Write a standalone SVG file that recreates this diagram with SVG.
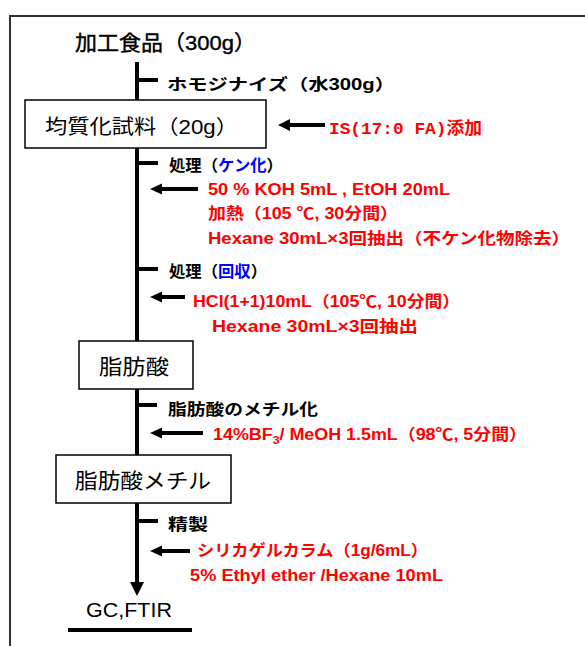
<svg xmlns="http://www.w3.org/2000/svg" width="585" height="646" viewBox="0 0 585 646">
<style>
.k{font-family:"Liberation Sans","Noto Sans CJK JP",sans-serif;fill:#000}
.b{font-weight:bold}
.r{fill:#ff0000;font-weight:bold}
.bl{fill:#0000ff}
.box{fill:#fff;stroke:#000;stroke-width:1.5}
.ln{stroke:#000;stroke-width:4;fill:none}
</style>
<path d="M10,646 L10,16 L585,16" fill="none" stroke="#333" stroke-width="2"/>
<g id="connectors">
<line class="ln" x1="137" y1="62" x2="137" y2="100"/>
<line class="ln" x1="137" y1="148" x2="137" y2="341"/>
<line class="ln" x1="137" y1="389" x2="137" y2="455"/>
<path d="M137,503 L137,582" class="ln"/>
<path d="M130,582 L144,582 L137,596 Z" fill="#000"/>
<line class="ln" x1="137" y1="80" x2="158" y2="80"/>
<line class="ln" x1="137" y1="163" x2="158" y2="163"/>
<line class="ln" x1="137" y1="269" x2="158" y2="269"/>
<line class="ln" x1="137" y1="405" x2="157" y2="405"/>
<line class="ln" x1="137" y1="521" x2="158" y2="521"/>
<line class="ln" x1="325" y1="125" x2="288" y2="125"/>
<path d="M278,125 L290,119 L290,131 Z" fill="#000"/>
<line class="ln" x1="198" y1="189" x2="160" y2="189"/>
<path d="M150,189 L162,183.5 L162,194.5 Z" fill="#000"/>
<line class="ln" x1="185" y1="297" x2="160" y2="297"/>
<path d="M150,297 L162,291.5 L162,302.5 Z" fill="#000"/>
<line class="ln" x1="203" y1="433" x2="160" y2="433"/>
<path d="M150,433 L162,427.5 L162,438.5 Z" fill="#000"/>
<line class="ln" x1="190" y1="551" x2="160" y2="551"/>
<path d="M150,551 L162,545.5 L162,556.5 Z" fill="#000"/>
<line class="ln" x1="68" y1="630" x2="192" y2="630"/>
</g>
<g id="n1"><text class="k" x="75" y="50" font-size="21" stroke="#000" stroke-width="0.4" textLength="181" lengthAdjust="spacingAndGlyphs">加工食品（300g）</text></g>
<g id="n2"><rect class="box" x="25" y="100" width="241" height="48"/><text class="k" x="45" y="134" font-size="20" textLength="193" lengthAdjust="spacingAndGlyphs">均質化試料（20g）</text></g>
<g id="n3"><rect class="box" x="79" y="341" width="114" height="48"/><text class="k" x="99" y="374" font-size="21" textLength="70" lengthAdjust="spacingAndGlyphs">脂肪酸</text></g>
<g id="n4"><rect class="box" x="56" y="455" width="175" height="48"/><text class="k" x="75" y="488" font-size="21" textLength="136" lengthAdjust="spacingAndGlyphs">脂肪酸メチル</text></g>
<g id="n5"><text class="k" x="86" y="617" font-size="21" textLength="86" lengthAdjust="spacingAndGlyphs">GC,FTIR</text></g>
<g id="labels">
<text class="k b" x="167" y="90" font-size="16" textLength="228" lengthAdjust="spacingAndGlyphs">ホモジナイズ（水300g）</text>
<text class="k r" x="329" y="134" font-size="17" textLength="153" lengthAdjust="spacingAndGlyphs" style="font-family:'Liberation Mono','Noto Sans CJK JP',monospace">IS(17:0 FA)添加</text>
<text class="k b" x="169" y="171" font-size="16" textLength="114" lengthAdjust="spacingAndGlyphs">処理（<tspan class="bl">ケン化</tspan>）</text>
<text class="k r" x="208" y="195" font-size="16" textLength="242" lengthAdjust="spacingAndGlyphs">50 % KOH 5mL , EtOH 20mL</text>
<text class="k r" x="208" y="219" font-size="16" textLength="190" lengthAdjust="spacingAndGlyphs">加熱（105 ℃, 30分間）</text>
<text class="k r" x="208" y="244" font-size="16" textLength="362" lengthAdjust="spacingAndGlyphs">Hexane 30mL×3回抽出（不ケン化物除去）</text>
<text class="k b" x="169" y="277" font-size="16" textLength="98" lengthAdjust="spacingAndGlyphs">処理（<tspan class="bl">回収</tspan>）</text>
<text class="k r" x="193" y="307" font-size="16" textLength="267" lengthAdjust="spacingAndGlyphs">HCl(1+1)10mL（105℃, 10分間）</text>
<text class="k r" x="212" y="332" font-size="16" textLength="206" lengthAdjust="spacingAndGlyphs">Hexane 30mL×3回抽出</text>
<text class="k b" x="168" y="415" font-size="16" textLength="150" lengthAdjust="spacingAndGlyphs">脂肪酸のメチル化</text>
<text class="k r" x="213" y="440" font-size="16" textLength="314" lengthAdjust="spacingAndGlyphs">14%BF<tspan font-size="11" dy="4">3</tspan><tspan dy="-4">/ MeOH 1.5mL（98℃, 5分間）</tspan></text>
<text class="k b" x="168" y="530" font-size="16" textLength="40" lengthAdjust="spacingAndGlyphs">精製</text>
<text class="k r" x="197" y="556" font-size="16" textLength="231" lengthAdjust="spacingAndGlyphs">シリカゲルカラム（1g/6mL）</text>
<text class="k r" x="190" y="581" font-size="16" textLength="253" lengthAdjust="spacingAndGlyphs">5% Ethyl ether /Hexane 10mL</text>
</g>
</svg>
